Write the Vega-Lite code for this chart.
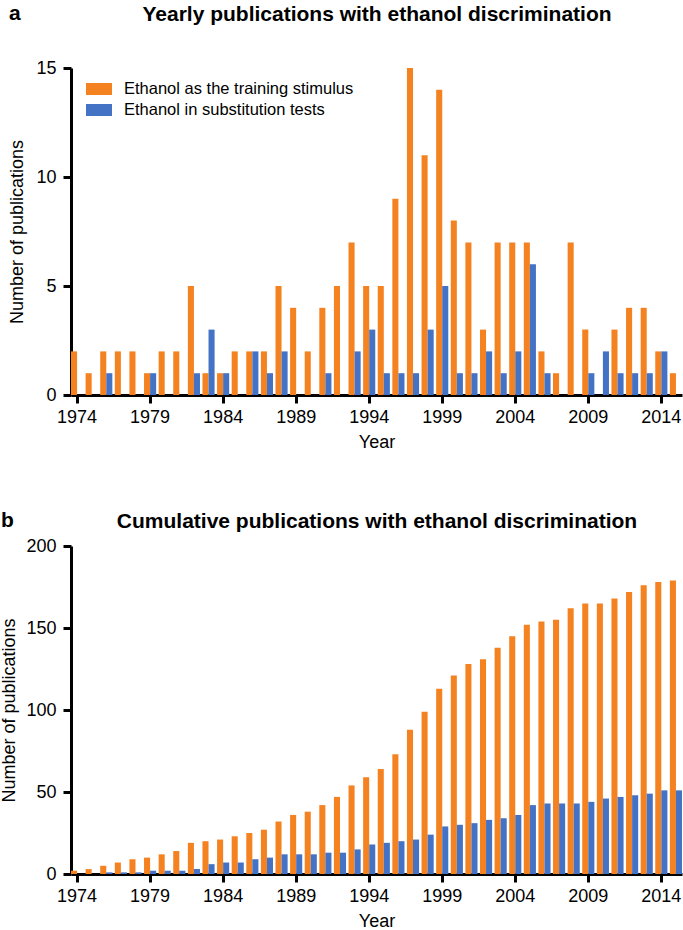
{
  "$schema": "https://vega.github.io/schema/vega-lite/v6.json",
  "padding": {"left": 0, "top": 3, "right": 0, "bottom": 0},
  "spacing": 59,
  "background": "white",
  "config": {
    "font": "Liberation Sans",
    "view": {"stroke": null},
    "axis": {
      "domainColor": "#000", "domainWidth": 3,
      "tickColor": "#000", "tickWidth": 3, "tickSize": 8,
      "labelColor": "#000", "labelFontSize": 18, "labelPadding": 5,
      "titleColor": "#000", "titleFontSize": 18, "titleFontWeight": "normal",
      "grid": false
    },
    "axisY": {"labelPadding": 7},
    "legend": {
      "title": null,
      "orient": "none",
      "symbolType": "M-1.3,-0.6H1.3V0.6H-1.3Z",
      "symbolSize": 400,
      "symbolStrokeWidth": 0,
      "symbolOpacity": 1,
      "labelFontSize": 16.5,
      "labelColor": "#000",
      "labelOffset": 15,
      "labelLimit": 400,
      "padding": 0
    },
    "title": {"color": "#000", "fontSize": 21, "fontWeight": "bold"}
  },
  "data": {"values": [
    {"year": 1974, "series": "Ethanol as the training stimulus", "count": 2, "cum": 2},
    {"year": 1974, "series": "Ethanol in substitution tests", "count": 0, "cum": 0},
    {"year": 1975, "series": "Ethanol as the training stimulus", "count": 1, "cum": 3},
    {"year": 1975, "series": "Ethanol in substitution tests", "count": 0, "cum": 0},
    {"year": 1976, "series": "Ethanol as the training stimulus", "count": 2, "cum": 5},
    {"year": 1976, "series": "Ethanol in substitution tests", "count": 1, "cum": 1},
    {"year": 1977, "series": "Ethanol as the training stimulus", "count": 2, "cum": 7},
    {"year": 1977, "series": "Ethanol in substitution tests", "count": 0, "cum": 1},
    {"year": 1978, "series": "Ethanol as the training stimulus", "count": 2, "cum": 9},
    {"year": 1978, "series": "Ethanol in substitution tests", "count": 0, "cum": 1},
    {"year": 1979, "series": "Ethanol as the training stimulus", "count": 1, "cum": 10},
    {"year": 1979, "series": "Ethanol in substitution tests", "count": 1, "cum": 2},
    {"year": 1980, "series": "Ethanol as the training stimulus", "count": 2, "cum": 12},
    {"year": 1980, "series": "Ethanol in substitution tests", "count": 0, "cum": 2},
    {"year": 1981, "series": "Ethanol as the training stimulus", "count": 2, "cum": 14},
    {"year": 1981, "series": "Ethanol in substitution tests", "count": 0, "cum": 2},
    {"year": 1982, "series": "Ethanol as the training stimulus", "count": 5, "cum": 19},
    {"year": 1982, "series": "Ethanol in substitution tests", "count": 1, "cum": 3},
    {"year": 1983, "series": "Ethanol as the training stimulus", "count": 1, "cum": 20},
    {"year": 1983, "series": "Ethanol in substitution tests", "count": 3, "cum": 6},
    {"year": 1984, "series": "Ethanol as the training stimulus", "count": 1, "cum": 21},
    {"year": 1984, "series": "Ethanol in substitution tests", "count": 1, "cum": 7},
    {"year": 1985, "series": "Ethanol as the training stimulus", "count": 2, "cum": 23},
    {"year": 1985, "series": "Ethanol in substitution tests", "count": 0, "cum": 7},
    {"year": 1986, "series": "Ethanol as the training stimulus", "count": 2, "cum": 25},
    {"year": 1986, "series": "Ethanol in substitution tests", "count": 2, "cum": 9},
    {"year": 1987, "series": "Ethanol as the training stimulus", "count": 2, "cum": 27},
    {"year": 1987, "series": "Ethanol in substitution tests", "count": 1, "cum": 10},
    {"year": 1988, "series": "Ethanol as the training stimulus", "count": 5, "cum": 32},
    {"year": 1988, "series": "Ethanol in substitution tests", "count": 2, "cum": 12},
    {"year": 1989, "series": "Ethanol as the training stimulus", "count": 4, "cum": 36},
    {"year": 1989, "series": "Ethanol in substitution tests", "count": 0, "cum": 12},
    {"year": 1990, "series": "Ethanol as the training stimulus", "count": 2, "cum": 38},
    {"year": 1990, "series": "Ethanol in substitution tests", "count": 0, "cum": 12},
    {"year": 1991, "series": "Ethanol as the training stimulus", "count": 4, "cum": 42},
    {"year": 1991, "series": "Ethanol in substitution tests", "count": 1, "cum": 13},
    {"year": 1992, "series": "Ethanol as the training stimulus", "count": 5, "cum": 47},
    {"year": 1992, "series": "Ethanol in substitution tests", "count": 0, "cum": 13},
    {"year": 1993, "series": "Ethanol as the training stimulus", "count": 7, "cum": 54},
    {"year": 1993, "series": "Ethanol in substitution tests", "count": 2, "cum": 15},
    {"year": 1994, "series": "Ethanol as the training stimulus", "count": 5, "cum": 59},
    {"year": 1994, "series": "Ethanol in substitution tests", "count": 3, "cum": 18},
    {"year": 1995, "series": "Ethanol as the training stimulus", "count": 5, "cum": 64},
    {"year": 1995, "series": "Ethanol in substitution tests", "count": 1, "cum": 19},
    {"year": 1996, "series": "Ethanol as the training stimulus", "count": 9, "cum": 73},
    {"year": 1996, "series": "Ethanol in substitution tests", "count": 1, "cum": 20},
    {"year": 1997, "series": "Ethanol as the training stimulus", "count": 15, "cum": 88},
    {"year": 1997, "series": "Ethanol in substitution tests", "count": 1, "cum": 21},
    {"year": 1998, "series": "Ethanol as the training stimulus", "count": 11, "cum": 99},
    {"year": 1998, "series": "Ethanol in substitution tests", "count": 3, "cum": 24},
    {"year": 1999, "series": "Ethanol as the training stimulus", "count": 14, "cum": 113},
    {"year": 1999, "series": "Ethanol in substitution tests", "count": 5, "cum": 29},
    {"year": 2000, "series": "Ethanol as the training stimulus", "count": 8, "cum": 121},
    {"year": 2000, "series": "Ethanol in substitution tests", "count": 1, "cum": 30},
    {"year": 2001, "series": "Ethanol as the training stimulus", "count": 7, "cum": 128},
    {"year": 2001, "series": "Ethanol in substitution tests", "count": 1, "cum": 31},
    {"year": 2002, "series": "Ethanol as the training stimulus", "count": 3, "cum": 131},
    {"year": 2002, "series": "Ethanol in substitution tests", "count": 2, "cum": 33},
    {"year": 2003, "series": "Ethanol as the training stimulus", "count": 7, "cum": 138},
    {"year": 2003, "series": "Ethanol in substitution tests", "count": 1, "cum": 34},
    {"year": 2004, "series": "Ethanol as the training stimulus", "count": 7, "cum": 145},
    {"year": 2004, "series": "Ethanol in substitution tests", "count": 2, "cum": 36},
    {"year": 2005, "series": "Ethanol as the training stimulus", "count": 7, "cum": 152},
    {"year": 2005, "series": "Ethanol in substitution tests", "count": 6, "cum": 42},
    {"year": 2006, "series": "Ethanol as the training stimulus", "count": 2, "cum": 154},
    {"year": 2006, "series": "Ethanol in substitution tests", "count": 1, "cum": 43},
    {"year": 2007, "series": "Ethanol as the training stimulus", "count": 1, "cum": 155},
    {"year": 2007, "series": "Ethanol in substitution tests", "count": 0, "cum": 43},
    {"year": 2008, "series": "Ethanol as the training stimulus", "count": 7, "cum": 162},
    {"year": 2008, "series": "Ethanol in substitution tests", "count": 0, "cum": 43},
    {"year": 2009, "series": "Ethanol as the training stimulus", "count": 3, "cum": 165},
    {"year": 2009, "series": "Ethanol in substitution tests", "count": 1, "cum": 44},
    {"year": 2010, "series": "Ethanol as the training stimulus", "count": 0, "cum": 165},
    {"year": 2010, "series": "Ethanol in substitution tests", "count": 2, "cum": 46},
    {"year": 2011, "series": "Ethanol as the training stimulus", "count": 3, "cum": 168},
    {"year": 2011, "series": "Ethanol in substitution tests", "count": 1, "cum": 47},
    {"year": 2012, "series": "Ethanol as the training stimulus", "count": 4, "cum": 172},
    {"year": 2012, "series": "Ethanol in substitution tests", "count": 1, "cum": 48},
    {"year": 2013, "series": "Ethanol as the training stimulus", "count": 4, "cum": 176},
    {"year": 2013, "series": "Ethanol in substitution tests", "count": 1, "cum": 49},
    {"year": 2014, "series": "Ethanol as the training stimulus", "count": 2, "cum": 178},
    {"year": 2014, "series": "Ethanol in substitution tests", "count": 2, "cum": 51},
    {"year": 2015, "series": "Ethanol as the training stimulus", "count": 1, "cum": 179},
    {"year": 2015, "series": "Ethanol in substitution tests", "count": 0, "cum": 51}
  ]},
  "vconcat": [
    {
      "width": 611,
      "height": 327,
      "title": {"text": "a", "anchor": "start", "frame": "bounds", "offset": -21},
      "resolve": {"axis": {"x": "independent"}},
      "layer": [
        {
          "mark": {"type": "bar"},
          "encoding": {
            "x": {
              "field": "year", "type": "ordinal",
              "scale": {"paddingInner": 0.17, "paddingOuter": 0},
              "axis": {"values": [1974, 1979, 1984, 1989, 1994, 1999, 2004, 2009, 2014], "labelAngle": 0, "title": "Year", "titlePadding": 7}
            },
            "xOffset": {"field": "series", "sort": ["Ethanol as the training stimulus", "Ethanol in substitution tests"]},
            "y": {
              "field": "count", "type": "quantitative",
              "scale": {"domain": [0, 15]},
              "axis": {"values": [0, 5, 10, 15], "title": "Number of publications", "titlePadding": 9}
            },
            "color": {
              "field": "series", "type": "nominal",
              "scale": {"domain": ["Ethanol as the training stimulus", "Ethanol in substitution tests"], "range": ["#F58220", "#4472C4"]},
              "legend": {"legendX": 18, "legendY": 11, "rowPadding": 2}
            }
          }
        },
        {
          "mark": {"type": "bar", "opacity": 0},
          "encoding": {
            "x": {
              "field": "year", "type": "ordinal",
              "axis": {"orient": "top", "labels": false, "ticks": false, "domain": false, "title": "Yearly publications with ethanol discrimination", "titleFontSize": 21, "titleFontWeight": "bold", "titlePadding": 44}
            }
          }
        }
      ]
    },
    {
      "width": 611,
      "height": 328,
      "title": {"text": "b", "anchor": "start", "frame": "bounds", "offset": -21},
      "resolve": {"axis": {"x": "independent"}},
      "layer": [
        {
          "mark": {"type": "bar"},
          "encoding": {
            "x": {
              "field": "year", "type": "ordinal",
              "scale": {"paddingInner": 0.17, "paddingOuter": 0},
              "axis": {"values": [1974, 1979, 1984, 1989, 1994, 1999, 2004, 2009, 2014], "labelAngle": 0, "title": "Year", "titlePadding": 7}
            },
            "xOffset": {"field": "series", "sort": ["Ethanol as the training stimulus", "Ethanol in substitution tests"]},
            "y": {
              "field": "cum", "type": "quantitative",
              "scale": {"domain": [0, 200]},
              "axis": {"values": [0, 50, 100, 150, 200], "title": "Number of publications", "titlePadding": 7}
            },
            "color": {
              "field": "series", "type": "nominal",
              "scale": {"domain": ["Ethanol as the training stimulus", "Ethanol in substitution tests"], "range": ["#F58220", "#4472C4"]},
              "legend": {"legendX": 19, "legendY": 9, "rowPadding": 4.5}
            }
          }
        },
        {
          "mark": {"type": "bar", "opacity": 0},
          "encoding": {
            "x": {
              "field": "year", "type": "ordinal",
              "axis": {"orient": "top", "labels": false, "ticks": false, "domain": false, "title": "Cumulative publications with ethanol discrimination", "titleFontSize": 21, "titleFontWeight": "bold", "titlePadding": 15}
            }
          }
        }
      ]
    }
  ]
}
